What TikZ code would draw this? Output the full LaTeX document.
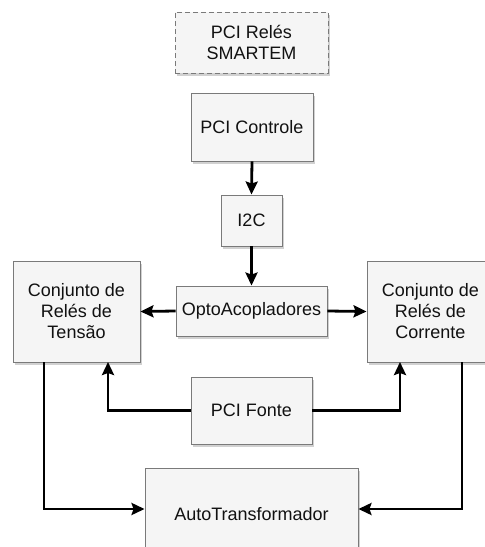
\documentclass[tikz,border=0pt]{standalone}
\usepackage{fontspec}
\setmainfont{Liberation Sans}
\usetikzlibrary{arrows.meta,shadows}
\definecolor{boxfill}{HTML}{F5F5F5}
\definecolor{boxline}{HTML}{7A7A7A}
\definecolor{txt}{HTML}{111111}
\begin{document}
\begin{tikzpicture}[x=1pt,y=-1pt,
  blockbox/.style={draw=boxline, line width=0.9pt, fill=boxfill, text=txt,
    align=center, inner sep=0pt, font=\fontsize{18}{21}\selectfont,
    drop shadow={shadow xshift=2pt, shadow yshift=-2.5pt, fill=black!18, opacity=1}},
  link/.style={line width=2.8pt, -{Stealth[length=13pt,width=12pt,inset=2pt]}}]
\useasboundingbox (0,0) rectangle (485,547);
\begin{scope}
\clip (0,0) rectangle (485,547);
% boards and blocks
\node[blockbox, dashed, dash pattern=on 5pt off 3pt, minimum width=153pt, minimum height=61pt]
  (smartem) at (251.5,42.5) {PCI Relés\\SMARTEM};
\node[blockbox, minimum width=122pt, minimum height=68pt] (controle) at (252,127) {PCI Controle};
\node[blockbox, minimum width=61pt, minimum height=51pt] (i2c) at (251.5,220.5) {I2C};
\node[blockbox, minimum width=127pt, minimum height=101pt] (tensao) at (76.5,311.5)
  {Conjunto de\\Relés de\\Tensão};
\node[blockbox, minimum width=151pt, minimum height=50pt] (opto) at (251.5,311) {OptoAcopladores};
\node[blockbox, minimum width=127pt, minimum height=101pt] (corrente) at (430.5,311.5)
  {Conjunto de\\Relés de\\Corrente};
\node[blockbox, minimum width=121pt, minimum height=67pt] (fonte) at (251.5,410.5) {PCI Fonte};
\node[blockbox, minimum width=213pt, minimum height=92pt] (auto) at (251.5,514) {AutoTransformador};
% bend points of the power and output lines
\coordinate (tin) at (108,362);
\coordinate (cin) at (400,362);
\coordinate (tout) at (44,362);
\coordinate (cout) at (462,362);
% connectors
\draw[link] (controle.south) -- (i2c.north);
\draw[link] (i2c.south) -- (opto.north);
\draw[link] (opto.west) -- (tensao.east);
\draw[link] (opto.east) -- (corrente.west);
\draw[link] (fonte.west) -| (tin);
\draw[link] (fonte.east) -| (cin);
\draw[link] (tout) |- ([yshift=5pt]auto.west);
\draw[link] (cout) |- ([yshift=5pt]auto.east);
\end{scope}
\end{tikzpicture}
\end{document}
